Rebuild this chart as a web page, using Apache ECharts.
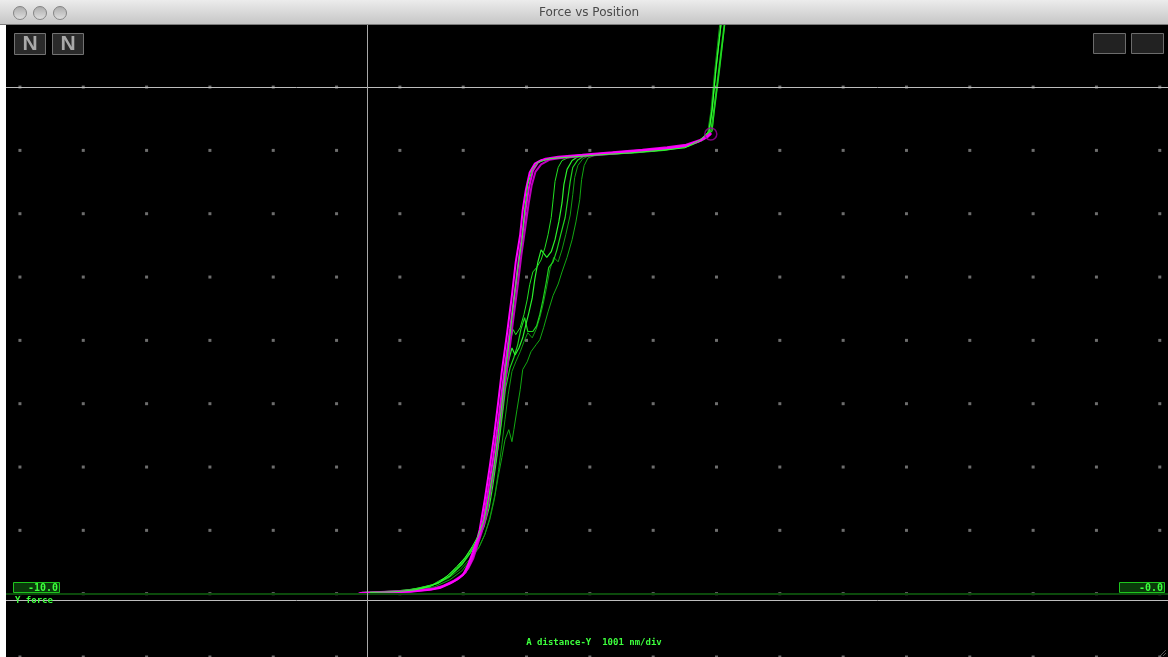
<!DOCTYPE html>
<html><head><meta charset="utf-8">
<script src="https://cdn.jsdelivr.net/npm/echarts@6/dist/echarts.min.js"></script>
<style>html,body{margin:0;padding:0;background:#fff;overflow:hidden}#c{width:1168px;height:657px}</style>
</head><body><div id="c"></div>
<script>
// x: distance in divisions (1001 nm/div) from the vertical cursor; y: force in divisions above the baseline
const magentaA = [[-0.14,0],[0.21,0.02],[0.68,0.03],[0.99,0.06],[1.15,0.09],[1.31,0.16],[1.42,0.22],[1.52,0.30],[1.59,0.44],[1.67,0.65],[1.74,0.85],[1.78,1.01],[1.86,1.48],[1.94,2.01],[2.01,2.51],[2.07,3.00],[2.13,3.51],[2.21,4.09],[2.29,4.72],[2.35,5.24],[2.42,5.67],[2.46,6.06],[2.51,6.38],[2.57,6.65],[2.65,6.79],[2.76,6.85],[2.97,6.88],[3.36,6.92],[3.84,6.96],[4.31,7.00],[4.71,7.03],[5.02,7.07],[5.23,7.14],[5.35,7.20],[5.43,7.26]];
const magentaB = [[-0.12,0.01],[0.25,0.02],[0.70,0.04],[1.02,0.07],[1.18,0.11],[1.34,0.18],[1.46,0.25],[1.56,0.34],[1.64,0.50],[1.71,0.70],[1.78,0.92],[1.83,1.12],[1.91,1.60],[1.99,2.12],[2.06,2.62],[2.12,3.10],[2.18,3.60],[2.26,4.18],[2.34,4.80],[2.40,5.30],[2.46,5.72],[2.51,6.10],[2.56,6.42],[2.62,6.68],[2.70,6.81],[2.82,6.87],[3.02,6.90],[3.40,6.93],[3.88,6.97],[4.35,7.01],[4.74,7.05],[5.04,7.09],[5.25,7.16],[5.36,7.22],[5.43,7.28]];
const magentaC = [[-0.10,0.01],[0.30,0.03],[0.74,0.05],[1.05,0.08],[1.22,0.13],[1.38,0.21],[1.50,0.29],[1.60,0.40],[1.68,0.56],[1.75,0.78],[1.82,1.00],[1.88,1.22],[1.96,1.70],[2.04,2.22],[2.10,2.70],[2.16,3.18],[2.23,3.68],[2.30,4.25],[2.38,4.86],[2.44,5.36],[2.50,5.78],[2.55,6.14],[2.60,6.44],[2.66,6.66],[2.75,6.78],[2.88,6.85],[3.06,6.88],[3.44,6.91],[3.92,6.95],[4.38,6.99],[4.76,7.03],[5.06,7.08],[5.26,7.15],[5.38,7.21],[5.44,7.27]];
const green1 = [[5.59,8.98],[5.51,8.27],[5.45,7.64],[5.40,7.30],[5.26,7.16],[5.02,7.04],[4.63,7.00],[4.15,6.96],[3.68,6.93],[3.28,6.90],[2.89,6.87],[2.70,6.81],[2.61,6.70],[2.54,6.46],[2.49,6.06],[2.45,5.59],[2.38,5.12],[2.32,4.64],[2.26,4.09],[2.19,3.54],[2.13,2.98],[2.07,2.51],[2.01,2.04],[1.93,1.56],[1.85,1.17],[1.75,0.90],[1.66,0.74],[1.55,0.57],[1.42,0.43],[1.29,0.30],[1.15,0.19],[0.99,0.11],[0.76,0.06],[0.44,0.03],[0.05,0.02]];
const green2 = [[5.64,8.98],[5.56,8.31],[5.48,7.67],[5.43,7.31],[5.29,7.16],[5.07,7.07],[4.71,7.01],[4.23,6.98],[3.76,6.95],[3.44,6.92],[3.33,6.85],[3.25,6.73],[3.21,6.51],[3.17,6.22],[3.13,5.94],[3.06,5.67],[3.00,5.43],[2.94,5.24],[2.87,5.15],[2.83,4.91],[2.78,4.64],[2.73,4.41],[2.68,4.23],[2.62,4.14],[2.54,4.14],[2.49,4.36],[2.43,4.17],[2.38,3.93],[2.32,3.73],[2.26,3.57],[2.19,3.25],[2.15,2.91],[2.10,2.51],[2.04,2.12],[1.97,1.72],[1.91,1.37],[1.83,1.09],[1.74,0.85],[1.63,0.65],[1.48,0.46],[1.31,0.28],[1.12,0.16],[0.84,0.08],[0.44,0.03],[-0.03,0.02]];
const green3 = [[5.65,8.98],[5.57,8.27],[5.49,7.64],[5.45,7.30],[5.31,7.16],[5.07,7.07],[4.71,7.01],[4.15,6.96],[3.76,6.95],[3.62,6.93],[3.49,6.88],[3.43,6.76],[3.39,6.54],[3.36,6.22],[3.30,5.87],[3.24,5.59],[3.16,5.31],[3.08,5.08],[3.02,4.89],[2.94,4.71],[2.86,4.45],[2.79,4.20],[2.73,4.01],[2.67,3.93],[2.59,3.82],[2.53,3.66],[2.46,3.54],[2.42,3.22],[2.37,2.91],[2.32,2.59],[2.29,2.40],[2.24,2.59],[2.21,2.62],[2.18,2.43],[2.13,2.15],[2.07,1.83],[2.01,1.48],[1.94,1.17],[1.86,0.93],[1.77,0.73],[1.64,0.54],[1.50,0.36],[1.31,0.22],[1.07,0.11],[0.68,0.05],[0.13,0.02]];
const green4 = [[5.59,8.98],[5.51,8.27],[5.45,7.64],[5.40,7.28],[5.26,7.16],[5.02,7.06],[4.63,7.01],[4.15,6.98],[3.68,6.95],[3.33,6.90],[3.24,6.84],[3.16,6.70],[3.11,6.46],[3.08,6.17],[3.03,5.87],[2.97,5.59],[2.91,5.40],[2.84,5.31],[2.75,5.43],[2.70,5.24],[2.65,4.96],[2.61,4.67],[2.56,4.45],[2.51,4.25],[2.46,4.04],[2.40,3.88],[2.34,3.77],[2.29,3.88],[2.24,3.69],[2.19,3.38],[2.15,2.98],[2.10,2.56],[2.05,2.15],[1.99,1.72],[1.93,1.36],[1.85,1.06],[1.75,0.84],[1.64,0.65],[1.50,0.46],[1.31,0.28],[1.11,0.16],[0.81,0.08],[0.36,0.03],[-0.08,0.02]];
const green5 = [[5.57,8.98],[5.49,8.24],[5.43,7.61],[5.38,7.28],[5.26,7.15],[5.02,7.06],[4.63,7.00],[4.15,6.96],[3.76,6.93],[3.52,6.92],[3.41,6.87],[3.33,6.76],[3.28,6.57],[3.25,6.30],[3.21,5.98],[3.14,5.67],[3.08,5.43],[3.02,5.24],[2.95,5.31],[2.89,5.12],[2.83,4.80],[2.78,4.56],[2.73,4.36],[2.67,4.17],[2.61,4.04],[2.54,4.12],[2.48,3.98],[2.42,3.82],[2.35,3.66],[2.29,3.51],[2.23,3.14],[2.18,2.75],[2.13,2.35],[2.08,1.96],[2.02,1.56],[1.94,1.20],[1.86,0.93],[1.77,0.74],[1.63,0.55],[1.47,0.38],[1.28,0.24],[1.03,0.13],[0.60,0.05],[0.02,0.02]];
const green6 = [[5.65,8.98],[5.57,8.31],[5.49,7.67],[5.45,7.31],[5.31,7.16],[5.07,7.06],[4.71,7.00],[4.23,6.96],[3.68,6.93],[3.28,6.90],[3.17,6.88],[3.08,6.84],[3.02,6.73],[2.97,6.51],[2.94,6.22],[2.91,5.94],[2.86,5.67],[2.81,5.46],[2.75,5.27],[2.68,5.15],[2.62,5.08],[2.57,4.88],[2.53,4.64],[2.48,4.41],[2.42,4.20],[2.35,4.09],[2.31,4.17],[2.26,3.98],[2.21,3.69],[2.16,3.30],[2.12,2.91],[2.07,2.46],[2.01,2.04],[1.94,1.64],[1.88,1.29],[1.80,1.01],[1.71,0.79],[1.59,0.62],[1.44,0.43],[1.26,0.27],[1.03,0.14],[0.68,0.06],[0.05,0.02]];
const contactPoint = [[5.43,7.26]];
const dotX = [-5.48,-4.48,-3.48,-2.48,-1.48,-0.48,0.52,1.52,2.52,3.52,4.52,5.52,6.52,7.52,8.52,9.52,10.52,11.52,12.52];
const dotY = [-1,0,1,2,3,4,5,6,7,8];
const cursorX = [0];
const cursorY = [8.0,-0.1];
const baselineY = [0];
const leftLabel = '-10.0';
const rightLabel = '-0.0';
const yAxisName = 'Y force';
const xAxisName = 'A distance-Y  1001 nm/div';
const windowTitle = 'Force vs Position';

const lattice = [];
dotX.forEach(x => dotY.forEach(y => lattice.push([x, y])));

const mono = '"DejaVu Sans Mono", "Liberation Mono", monospace';
const lineSeries = (name, data, color, width, z) => ({
  name, type: 'line', data, showSymbol: false, symbol: 'none', z,
  lineStyle: { color, width }, silent: true, animation: false
});

const markLines = [];
baselineY.forEach(v => markLines.push({ yAxis: v, lineStyle: { color: '#0c4a0c', width: 2, type: 'solid' } }));
cursorY.forEach(v => markLines.push({ yAxis: v, lineStyle: { color: '#bdbdbd', width: 1, type: 'solid' } }));
cursorX.forEach(v => markLines.push({ xAxis: v, lineStyle: { color: '#a8a8a8', width: 1, type: 'solid' } }));

const chart = echarts.init(document.getElementById('c'));
chart.setOption({
  animation: false,
  backgroundColor: '#ffffff',
  grid: { left: 6, right: 0, top: 25, bottom: 0, show: true, backgroundColor: '#000', borderWidth: 0 },
  xAxis: { type: 'value', min: -5.70, max: 12.65, show: false },
  yAxis: { type: 'value', min: -1.0, max: 8.98, show: false },
  series: [
    { type: 'scatter', data: lattice, symbol: 'rect', symbolSize: 3, itemStyle: { color: '#8a8a8a' }, z: 1, silent: true,
      markLine: { silent: true, symbol: 'none', label: { show: false }, data: markLines, animation: false } },
    lineSeries('retract 3', green3, '#12a812', 1, 3),
    lineSeries('retract 5', green5, '#119a11', 1, 3),
    lineSeries('retract 2', green2, '#1fd21f', 1.2, 3),
    lineSeries('retract 4', green4, '#2cf02c', 1.2, 3),
    lineSeries('retract 6', green6, '#22e022', 1, 3),
    lineSeries('approach C', magentaC, '#c000c0', 2, 4),
    lineSeries('approach B', magentaB, '#e600e6', 2, 4),
    lineSeries('approach A', magentaA, '#ff00ff', 2, 4),
    lineSeries('retract 1', green1, '#33ff33', 1, 5),
    { type: 'scatter', data: contactPoint, symbol: 'circle', symbolSize: 12, z: 6, silent: true,
      itemStyle: { color: 'rgba(0,0,0,0)', borderColor: '#a000a0', borderWidth: 1.5 } }
  ],
  graphic: [
    { type: 'rect', z: 100, shape: { x: 0, y: 0, width: 1168, height: 24 },
      style: { fill: new echarts.graphic.LinearGradient(0, 0, 0, 1, [{ offset: 0, color: '#ececec' }, { offset: 1, color: '#c6c6c6' }]) } },
    { type: 'line', z: 101, shape: { x1: 0, y1: 24.5, x2: 1168, y2: 24.5 }, style: { stroke: '#7c7c7c', lineWidth: 1 } },
    ...[20, 40, 60].map(cx => ({ type: 'circle', z: 101, shape: { cx, cy: 13, r: 6.5 },
      style: { fill: new echarts.graphic.LinearGradient(0, 0, 0, 1, [{ offset: 0, color: '#a9a9a9' }, { offset: 1, color: '#e2e2e2' }]), stroke: '#858585', lineWidth: 1 } })),
    { type: 'text', z: 101, x: 589, y: 13, style: { text: windowTitle, fill: '#4a4a4a', font: '12px "DejaVu Sans", sans-serif', align: 'center', verticalAlign: 'middle' } },
    ...[14, 52].map(x => ({ type: 'rect', z: 100, shape: { x: x + 0.5, y: 33.5, width: 31, height: 21 }, style: { fill: '#2a2a2a', stroke: '#727272', lineWidth: 1 } })),
    ...[30, 68].map(x => ({ type: 'text', z: 101, x, y: 44, style: { text: 'N', fill: '#a9a9a9', font: 'bold 21px "Liberation Sans", Arial, sans-serif', align: 'center', verticalAlign: 'middle' } })),
    ...[1093, 1131].map(x => ({ type: 'rect', z: 100, shape: { x: x + 0.5, y: 33.5, width: 32, height: 20 }, style: { fill: '#222222', stroke: '#6c6c6c', lineWidth: 1 } })),
    { type: 'rect', z: 100, shape: { x: 13.5, y: 582.5, width: 46, height: 10 }, style: { fill: '#0a3a0a', stroke: '#1ec41e', lineWidth: 1 } },
    { type: 'text', z: 101, x: 58, y: 588, style: { text: leftLabel, fill: '#3dff3d', font: 'bold 10px ' + mono, align: 'right', verticalAlign: 'middle' } },
    { type: 'rect', z: 100, shape: { x: 1119.5, y: 582.5, width: 45, height: 10 }, style: { fill: '#0a3a0a', stroke: '#1ec41e', lineWidth: 1 } },
    { type: 'text', z: 101, x: 1163, y: 588, style: { text: rightLabel, fill: '#3dff3d', font: 'bold 10px ' + mono, align: 'right', verticalAlign: 'middle' } },
    { type: 'text', z: 101, x: 15, y: 601, style: { text: yAxisName, fill: '#3dff3d', font: 'bold 9px ' + mono, align: 'left', verticalAlign: 'middle' } },
    { type: 'text', z: 101, x: 594, y: 643, style: { text: xAxisName, fill: '#3dff3d', font: 'bold 9px ' + mono, align: 'center', verticalAlign: 'middle' } },
    { type: 'line', z: 101, shape: { x1: 1160, y1: 656, x2: 1166, y2: 650 }, style: { stroke: '#555', lineWidth: 1 } },
    { type: 'line', z: 101, shape: { x1: 1163, y1: 656, x2: 1166, y2: 653 }, style: { stroke: '#555', lineWidth: 1 } }
  ]
});
</script></body></html>
